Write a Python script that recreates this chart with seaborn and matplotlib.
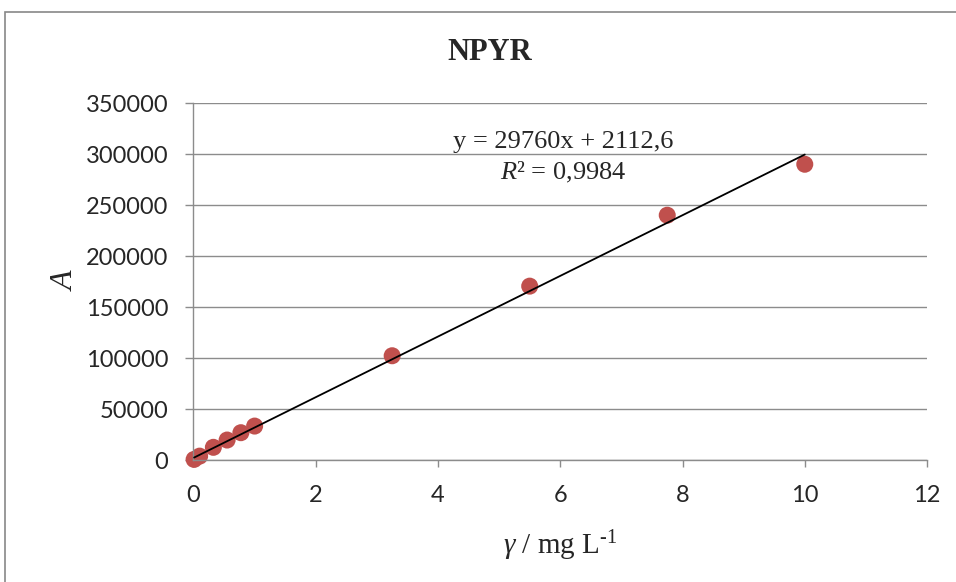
import matplotlib
matplotlib.use("Agg")
import matplotlib.pyplot as plt
import seaborn as sns
import numpy as np
import pandas as pd
from matplotlib.patches import Rectangle

# DATA
conc = [0.01, 0.1, 0.325, 0.55, 0.775, 1.0, 3.25, 5.5, 7.75, 10.0]
area = [600, 3800, 12450, 19600, 26800, 33300, 102300, 170600, 240200, 290200]
slope = 29760
intercept = 2112.6
y_ticks = [0, 50000, 100000, 150000, 200000, 250000, 300000, 350000]
x_ticks = [0, 2, 4, 6, 8, 10, 12]

df = pd.DataFrame({"conc": conc, "area": area})

sns.set_theme(style="white")
plt.rcParams["mathtext.fontset"] = "custom"
plt.rcParams["mathtext.rm"] = "Liberation Serif"
plt.rcParams["mathtext.it"] = "Liberation Serif:italic"
plt.rcParams["font.family"] = ["Lato", "DejaVu Sans"]

fig = plt.figure(figsize=(9.56, 5.82), dpi=100)
ax = fig.add_axes([0.2024, 0.2096, 0.7673, 0.6129])

grey = "#8c8c8c"

# TREND LINE FROM THE FITTED EQUATION
fit_x = np.array([min(conc), max(conc)])
ax.plot(fit_x, slope * fit_x + intercept, color="black", lw=1.3, zorder=3)

sns.scatterplot(
    data=df,
    x="conc",
    y="area",
    ax=ax,
    color="#c0504d",
    s=150,
    edgecolor="none",
    zorder=2,
    clip_on=False,
)

ax.set_xlim(0, 12)
ax.set_ylim(0, 350000)
ax.set_xticks(x_ticks)
ax.set_yticks(y_ticks)
ax.set_xticklabels([str(t) for t in x_ticks])
ax.set_yticklabels([str(t) for t in y_ticks])
ax.yaxis.grid(True, color=grey, lw=1.0)
ax.set_axisbelow(True)

for side in ["top", "right"]:
    ax.spines[side].set_visible(False)
for side in ["left", "bottom"]:
    ax.spines[side].set_color(grey)
    ax.spines[side].set_linewidth(1.0)

ax.tick_params(axis="y", direction="out", length=6, width=1, color=grey,
               labelsize=17, pad=12, left=True)
ax.tick_params(axis="x", direction="out", length=5, width=1, color=grey,
               labelsize=17, pad=13, bottom=True)

ax.set_xlabel(r"$\gamma$ / mg L$^{\text{-1}}$", family="Liberation Serif",
              fontsize=21, labelpad=16)
ax.set_ylabel("A", family="Liberation Serif", fontstyle="italic",
              fontsize=23, labelpad=4)

fig.text(490 / 956, 1 - 53 / 582, "NPYR", family="Liberation Serif",
         fontweight="bold", fontsize=22, ha="center", va="center")

fig.text(563 / 956, 1 - 142 / 582, "y = 29760x + 2112,6",
         family="Liberation Serif", fontsize=19, ha="center", va="center")
fig.text(563 / 956, 1 - 172 / 582, r"$R$² = 0,9984",
         family="Liberation Serif", fontsize=19, ha="center", va="center")

# CHART AREA BORDER
fig.add_artist(Rectangle((5 / 956, -0.05), 1.1, 1 - 12 / 582 + 0.05,
                         transform=fig.transFigure, fill=False,
                         edgecolor="#888888", lw=1.2))

fig.savefig("out.png", dpi=100)
